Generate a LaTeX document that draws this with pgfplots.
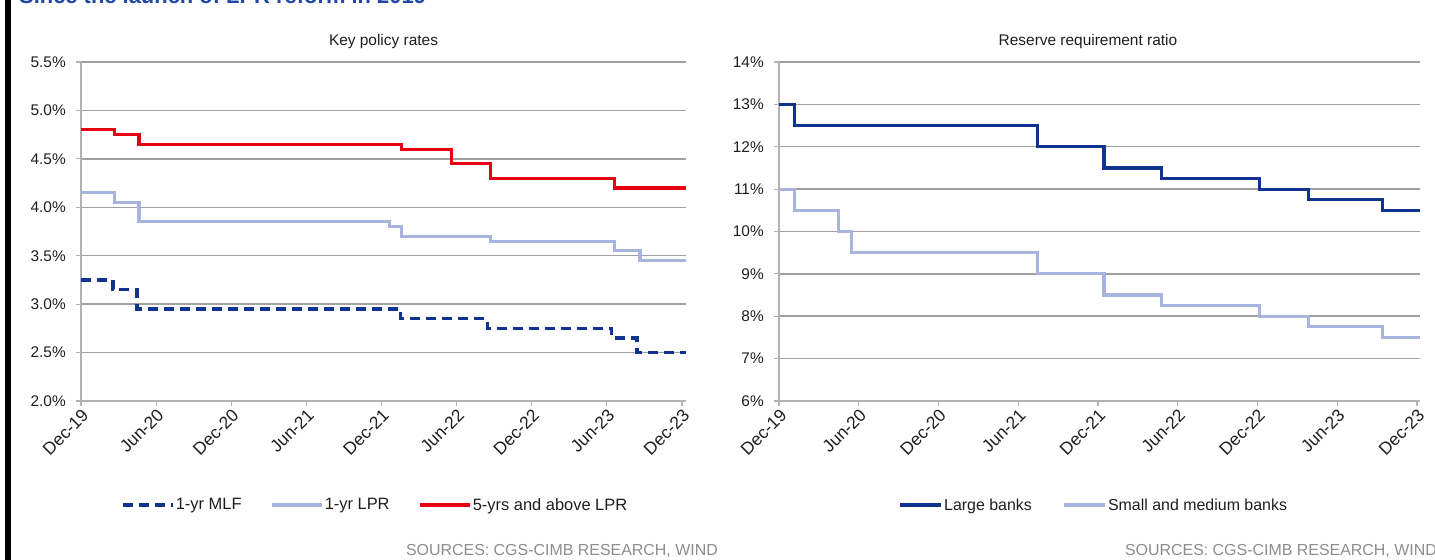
\documentclass[border=0pt]{standalone}
\usepackage{pgfplots}
\pgfplotsset{compat=1.18}
\usepackage{fontspec}
\setmainfont{Liberation Sans}

\definecolor{lprred}{RGB}{230,0,18}
\definecolor{navy}{RGB}{16,52,142}
\definecolor{paleblue}{RGB}{166,180,222}
\definecolor{gridgray}{RGB}{160,160,160}
\definecolor{axisgray}{RGB}{178,178,178}
\definecolor{headblue}{RGB}{31,70,168}
\definecolor{srcgray}{RGB}{140,140,140}
\definecolor{labelgray}{RGB}{30,30,30}

% x = months since December 2019
\pgfplotsset{
  panel/.style={
    scale only axis, height=339bp,
    xmin=0, xtick={0,6,...,48},
    xticklabels={Dec-19,Jun-20,Dec-20,Jun-21,Dec-21,Jun-22,Dec-22,Jun-23,Dec-23},
    axis x line*=bottom, axis y line*=left,
    axis line style={draw=axisgray, line width=1.3bp},
    ymajorgrids, grid style={draw=gridgray, line width=1.5bp},
    tick style={draw=axisgray, line width=1.2bp},
    tick align=outside, major tick length=5bp,
    /pgf/number format/assume math mode=true,
    tick label style={text=labelgray, font=\fontsize{15.5}{18}\selectfont},
    x tick label style={rotate=45, anchor=north east, inner sep=1bp,
      font=\fontsize{17.5}{20}\selectfont},
    y tick label style={inner sep=1bp, xshift=-9bp},
    title style={font=\fontsize{15.5}{18}\selectfont, text=labelgray},
    legend style={draw=none, fill=none, inner sep=0pt, legend columns=-1,
      font=\fontsize{16.5}{19}\selectfont, text=labelgray,
      nodes={inner sep=1.5bp},
      /tikz/every even column/.append style={column sep=27bp}},
    legend image code/.code={\draw[##1] (0bp,0bp) -- (50bp,0bp);},
    clip=false,
  },
}

\begin{document}
\begin{tikzpicture}

% left bar
\fill[black] (4.5bp,0bp) rectangle (11bp,560bp);
% heading, mostly above the page edge
\node[anchor=base west, inner sep=0pt, text=headblue,
  font=\fontsize{22}{25}\selectfont\bfseries] at (19bp,556bp) {Since the launch of LPR reform in 2019};

% ---------------- Key policy rates ----------------
\begin{axis}[panel, at={(81bp,159bp)}, anchor=south west,
  width=605bp, xmax=48.32,
  ymin=2, ymax=5.5, ytick={2,2.5,...,5.5},
  yticklabel={\pgfmathprintnumber[fixed,fixed zerofill,precision=1]{\tick}\%},
  title={Key policy rates}, title style={at={(0.5,1)}, anchor=base, yshift=11bp},
  legend style={at={(0.066,-0.307)}, anchor=west}]
\addplot[const plot, navy, line width=3.2bp, dash pattern=on 10bp off 6bp] coordinates {
  (0,3.25) (2.55,3.15) (4.47,2.95) (25.52,2.85) (32.45,2.75) (42.40,2.65) (44.40,2.50) (48.32,2.50)};
\addlegendentry{1-yr MLF}
\addplot[const plot, paleblue, line width=3.2bp] coordinates {
  (0,4.15) (2.66,4.05) (4.63,3.85) (24.61,3.80) (25.61,3.70) (32.68,3.65) (42.63,3.55) (44.65,3.45) (48.32,3.45)};
\addlegendentry{1-yr LPR}
\addplot[const plot, lprred, line width=3.2bp] coordinates {
  (0,4.80) (2.66,4.75) (4.63,4.65) (25.61,4.60) (29.61,4.45) (32.68,4.30) (42.63,4.20) (48.32,4.20)};
\addlegendentry{5-yrs and above LPR}
\end{axis}

% ---------------- Reserve requirement ratio ----------------
\begin{axis}[panel, at={(779bp,159bp)}, anchor=south west,
  width=641bp, xmax=48.23,
  ymin=6, ymax=14, ytick={6,7,...,14},
  yticklabel={\pgfmathprintnumber[fixed,precision=0]{\tick}\%},
  title={Reserve requirement ratio}, title style={at={(0.482,1)}, anchor=base, yshift=11bp},
  legend style={at={(0.186,-0.307)}, anchor=west, font=\fontsize{16}{19}\selectfont,
    /tikz/every even column/.append style={column sep=29bp}},
  legend image code/.code={\draw[#1] (0bp,0bp) -- (41bp,0bp);}]
\addplot[const plot, navy, line width=3.2bp] coordinates {
  (0,13.0) (1.16,12.5) (19.45,12.0) (24.45,11.5) (28.80,11.25) (36.13,11.0) (39.84,10.75) (45.40,10.5) (48.23,10.5)};
\addlegendentry{Large banks}
\addplot[const plot, paleblue, line width=3.2bp] coordinates {
  (0,11.0) (1.16,10.5) (4.47,10.0) (5.45,9.5) (19.45,9.0) (24.45,8.5) (28.80,8.25) (36.13,8.0) (39.84,7.75) (45.40,7.5) (48.23,7.5)};
\addlegendentry{Small and medium banks}
\end{axis}

% source lines
\node[anchor=base east, inner sep=0pt, text=srcgray, font=\fontsize{16}{19}\selectfont] at (718bp,5bp) {SOURCES: CGS-CIMB RESEARCH, WIND};
\node[anchor=base east, inner sep=0pt, text=srcgray, font=\fontsize{16}{19}\selectfont] at (1437bp,5bp) {SOURCES: CGS-CIMB RESEARCH, WIND};

\pgfresetboundingbox
\path[use as bounding box] (0bp,0bp) rectangle (1435bp,560bp);
\end{tikzpicture}
\end{document}
